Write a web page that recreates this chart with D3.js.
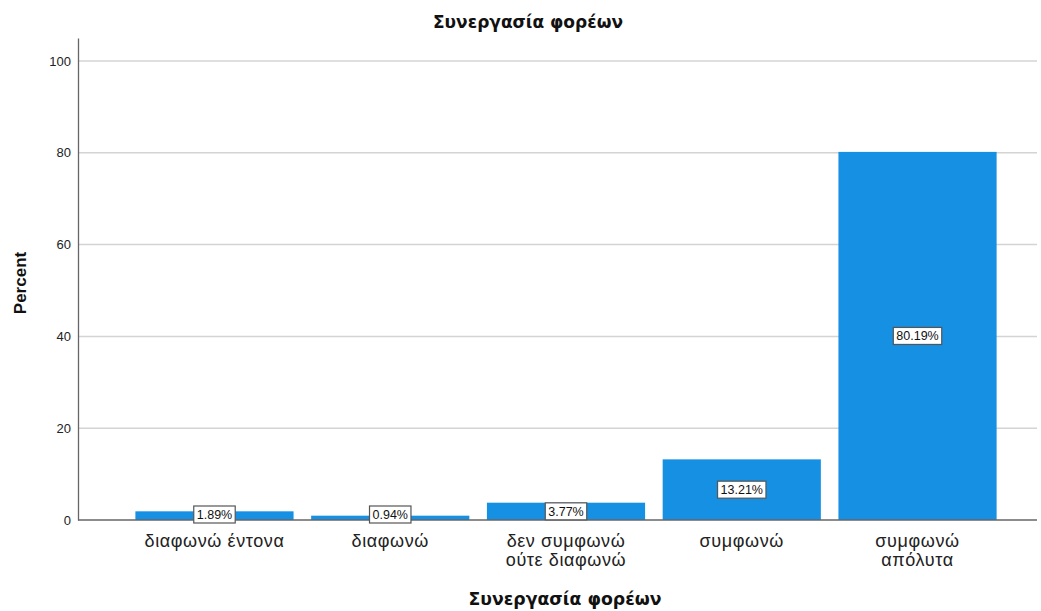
<!DOCTYPE html>
<html><head><meta charset="utf-8">
<script src="https://cdn.jsdelivr.net/npm/d3@7"></script>
<style>body{margin:0;background:#fff}</style>
</head><body>
<svg id="c" width="1041" height="611"></svg>
<script>
const categories = [["διαφωνώ έντονα"], ["διαφωνώ"], ["δεν συμφωνώ", "ούτε διαφωνώ"], ["συμφωνώ"], ["συμφωνώ", "απόλυτα"]];
const percents = [1.89, 0.94, 3.77, 13.21, 80.19];
const yTicks = [0, 20, 40, 60, 80, 100];
const chartTitle = "Συνεργασία φορέων";
const xTitle = "Συνεργασία φορέων";
const yTitle = "Percent";

const svg = d3.select("#c");
const keys = categories.map((c, i) => i);
const x = d3.scaleBand().domain(keys).range([126.6, 1005.4]).paddingInner(0.1).paddingOuter(0.05);
const y = d3.scaleLinear().domain([0, 105]).range([520, 38]);
const left = 78, right = 1037;

// gridlines
svg.append("g").selectAll("line").data(yTicks.filter(d => d > 0)).join("line")
  .attr("x1", left).attr("x2", right).attr("y1", d => y(d)).attr("y2", d => y(d))
  .attr("stroke", "#d4d4d4").attr("stroke-width", 1.5);

// bars
svg.append("g").selectAll("rect").data(percents).join("rect")
  .attr("x", (d, i) => x(i)).attr("width", x.bandwidth())
  .attr("y", d => y(d)).attr("height", d => y(0) - y(d))
  .attr("fill", "#1690e3");

// axes
const yAxis = d3.axisLeft(y).tickValues(yTicks).tickSize(0).tickPadding(7);
const gy = svg.append("g").attr("transform", `translate(${left},0)`).call(yAxis);
gy.select(".domain").attr("stroke", "#666").attr("stroke-width", 1.3);
gy.selectAll("text").attr("font-family", "Liberation Sans, Arial, sans-serif").attr("font-size", 13).attr("fill", "#222");

svg.append("line").attr("x1", left).attr("x2", right).attr("y1", y(0)).attr("y2", y(0))
  .attr("stroke", "#666").attr("stroke-width", 1.3);

// category labels
const xl = svg.append("g");
categories.forEach((lines, i) => {
  const t = xl.append("text").attr("text-anchor", "middle")
    .attr("font-family", "Liberation Sans, Arial, sans-serif").attr("font-size", 18)
    .attr("letter-spacing", 0.6).attr("fill", "#222");
  lines.forEach((ln, j) => {
    t.append("tspan").attr("x", x(i) + x.bandwidth() / 2).attr("y", 547 + j * 19).text(ln);
  });
});

// value labels
const lg = svg.append("g");
percents.forEach((v, i) => {
  const cx = x(i) + x.bandwidth() / 2;
  let cy = (y(v) + y(0)) / 2;
  cy = Math.min(cy, 514.5);
  const label = v.toFixed(2) + "%";
  const g = lg.append("g");
  const t = g.append("text").attr("x", cx).attr("y", cy + 4.5).attr("text-anchor", "middle")
    .attr("font-family", "Liberation Sans, Arial, sans-serif").attr("font-size", 12.5).attr("fill", "#111").text(label);
  const w = t.node().getComputedTextLength();
  g.insert("rect", "text").attr("x", cx - w / 2 - 3).attr("y", cy - 8.5).attr("width", w + 6).attr("height", 17)
    .attr("fill", "#fff").attr("stroke", "#555").attr("stroke-width", 1.2);
});

// titles
svg.append("text").attr("x", 528).attr("y", 28).attr("text-anchor", "middle")
  .attr("font-family", "DejaVu Sans, Verdana, sans-serif").attr("font-weight", "bold").attr("font-size", 17)
  .attr("fill", "#111").text(chartTitle);
svg.append("text").attr("x", 565).attr("y", 605).attr("text-anchor", "middle")
  .attr("font-family", "DejaVu Sans, Verdana, sans-serif").attr("font-weight", "bold").attr("font-size", 17.3)
  .attr("fill", "#111").text(xTitle);
svg.append("text").attr("transform", "translate(26,283) rotate(-90)").attr("text-anchor", "middle")
  .attr("font-family", "Liberation Sans, Arial, sans-serif").attr("font-weight", "bold").attr("font-size", 17)
  .attr("fill", "#111").text(yTitle);
</script>
</body></html>
